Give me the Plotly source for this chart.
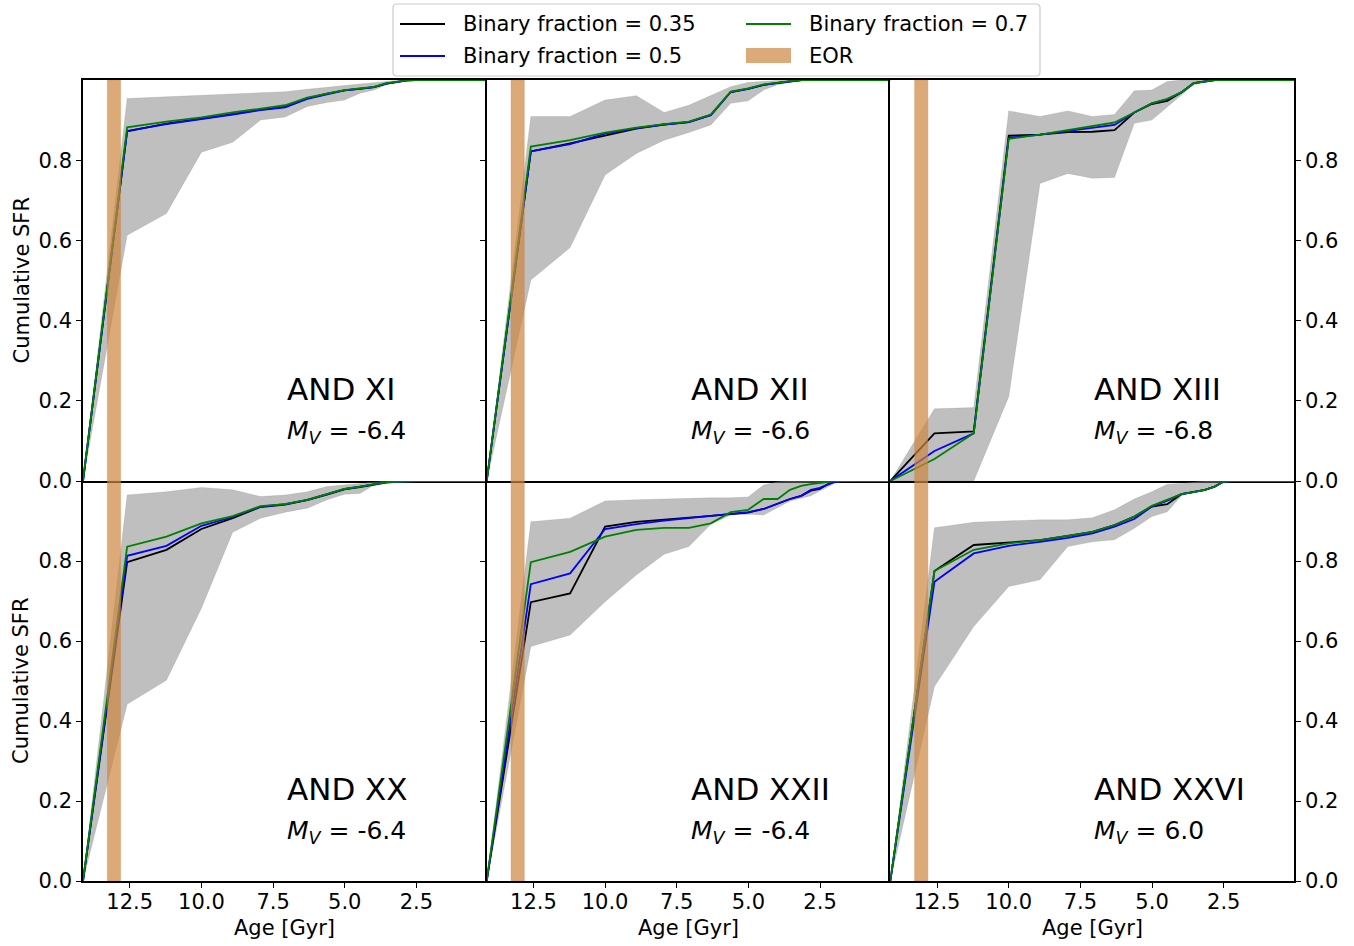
import plotly.graph_objects as go
from plotly.subplots import make_subplots

# ---------------- data ----------------
ages = [14.13, 12.59, 11.22, 10.00, 8.91, 7.94, 7.08, 6.31, 5.62, 5.01,
        4.47, 3.98, 3.55, 3.16, 2.82, 2.51, 2.24, 2.00, 1.78, 0.05]

eor_range = [13.28, 12.82]

names = ["AND XI", "AND XII", "AND XIII", "AND XX", "AND XXII", "AND XXVI"]
mv_values = ["-6.4", "-6.6", "-6.8", "-6.4", "-6.4", "6.0"]

# AND XI
xi_035 = [0, 0.872, 0.891, 0.903, 0.915, 0.926, 0.933, 0.954, 0.966, 0.974, 0.978, 0.982, 0.991, 0.995, 0.999, 1, 1, 1, 1, 1]
xi_05 = [0, 0.873, 0.890, 0.902, 0.914, 0.925, 0.932, 0.953, 0.965, 0.974, 0.978, 0.982, 0.991, 0.995, 0.999, 1, 1, 1, 1, 1]
xi_07 = [0, 0.882, 0.896, 0.907, 0.919, 0.929, 0.937, 0.956, 0.967, 0.975, 0.979, 0.983, 0.992, 0.996, 0.999, 1, 1, 1, 1, 1]
xi_lo = [0, 0.613, 0.667, 0.820, 0.845, 0.900, 0.908, 0.934, 0.944, 0.950, 0.967, 0.975, 0.988, 0.994, 0.998, 1, 1, 1, 1, 1]
xi_hi = [0, 0.954, 0.958, 0.962, 0.965, 0.968, 0.971, 0.977, 0.981, 0.986, 0.990, 0.994, 0.997, 0.999, 1, 1, 1, 1, 1, 1]

# AND XII
xii_035 = [0, 0.822, 0.842, 0.862, 0.879, 0.889, 0.895, 0.913, 0.970, 0.978, 0.988, 0.993, 0.997, 1, 1, 1, 1, 1, 1, 1]
xii_05 = [0, 0.822, 0.840, 0.866, 0.880, 0.889, 0.895, 0.912, 0.970, 0.978, 0.988, 0.993, 0.997, 1, 1, 1, 1, 1, 1, 1]
xii_07 = [0, 0.834, 0.850, 0.869, 0.881, 0.890, 0.896, 0.914, 0.971, 0.979, 0.989, 0.994, 0.997, 1, 1, 1, 1, 1, 1, 1]
xii_lo = [0, 0.501, 0.582, 0.763, 0.817, 0.850, 0.869, 0.888, 0.942, 0.948, 0.975, 0.988, 0.994, 0.998, 1, 1, 1, 1, 1, 1]
xii_hi = [0, 0.909, 0.909, 0.950, 0.961, 0.919, 0.937, 0.961, 0.983, 0.994, 0.997, 0.999, 1, 1, 1, 1, 1, 1, 1, 1]

# AND XIII
xiii_035 = [0, 0.119, 0.124, 0.861, 0.864, 0.870, 0.871, 0.875, 0.919, 0.940, 0.948, 0.969, 0.992, 0.996, 1, 1, 1, 1, 1, 1]
xiii_05 = [0, 0.075, 0.119, 0.856, 0.864, 0.873, 0.880, 0.888, 0.919, 0.942, 0.952, 0.969, 0.992, 0.996, 1, 1, 1, 1, 1, 1]
xiii_07 = [0, 0.055, 0.119, 0.853, 0.864, 0.875, 0.884, 0.894, 0.919, 0.942, 0.953, 0.969, 0.992, 0.996, 1, 1, 1, 1, 1, 1]
xiii_lo = [0, 0, 0, 0.210, 0.742, 0.767, 0.755, 0.757, 0.892, 0.900, 0.933, 0.963, 0.988, 0.994, 0.998, 1, 1, 1, 1, 1]
xiii_hi = [0, 0.180, 0.183, 0.923, 0.909, 0.923, 0.909, 0.914, 0.973, 0.975, 0.996, 1, 1, 1, 1, 1, 1, 1, 1, 1]

# AND XX
xx_035 = [0, 0.797, 0.828, 0.880, 0.907, 0.935, 0.941, 0.952, 0.966, 0.979, 0.985, 0.991, 0.996, 0.998, 1, 1, 1, 1, 1, 1]
xx_05 = [0, 0.813, 0.838, 0.888, 0.910, 0.936, 0.942, 0.953, 0.967, 0.980, 0.986, 0.992, 0.997, 0.998, 1, 1, 1, 1, 1, 1]
xx_07 = [0, 0.836, 0.861, 0.894, 0.912, 0.937, 0.942, 0.953, 0.967, 0.980, 0.986, 0.992, 0.997, 0.998, 1, 1, 1, 1, 1, 1]
xx_lo = [0, 0.442, 0.502, 0.682, 0.872, 0.907, 0.922, 0.932, 0.953, 0.967, 0.969, 0.990, 0.998, 1, 1, 1, 1, 1, 1, 1]
xx_hi = [0, 0.965, 0.973, 0.984, 0.978, 0.961, 0.965, 0.973, 0.986, 0.990, 0.994, 0.998, 1, 1, 1, 1, 1, 1, 1, 1]

# AND XXII
xxii_035 = [0, 0.697, 0.719, 0.886, 0.898, 0.903, 0.908, 0.913, 0.917, 0.921, 0.930, 0.944, 0.955, 0.963, 0.976, 0.980, 0.992, 0.998, 1, 1]
xxii_05 = [0, 0.742, 0.769, 0.880, 0.892, 0.901, 0.907, 0.912, 0.917, 0.922, 0.930, 0.944, 0.955, 0.963, 0.978, 0.983, 0.992, 0.998, 1, 1]
xxii_07 = [0, 0.797, 0.823, 0.861, 0.878, 0.883, 0.883, 0.894, 0.922, 0.928, 0.955, 0.955, 0.978, 0.988, 0.992, 0.995, 0.998, 1, 1, 1]
xxii_lo = [0, 0.586, 0.615, 0.698, 0.765, 0.817, 0.836, 0.892, 0.915, 0.917, 0.915, 0.933, 0.950, 0.957, 0.963, 0.975, 0.986, 0.994, 0.998, 1]
xxii_hi = [0, 0.898, 0.907, 0.950, 0.953, 0.955, 0.958, 0.958, 0.958, 0.960, 0.990, 0.998, 1, 1, 1, 1, 1, 1, 1, 1]

# AND XXVI
xxvi_035 = [0, 0.775, 0.840, 0.847, 0.852, 0.863, 0.873, 0.890, 0.911, 0.936, 0.942, 0.967, 0.972, 0.978, 0.986, 0.998, 1, 1, 1, 1]
xxvi_05 = [0, 0.748, 0.819, 0.838, 0.848, 0.858, 0.869, 0.886, 0.905, 0.936, 0.951, 0.967, 0.972, 0.978, 0.986, 0.998, 1, 1, 1, 1]
xxvi_07 = [0, 0.775, 0.828, 0.844, 0.852, 0.863, 0.873, 0.890, 0.911, 0.938, 0.953, 0.967, 0.972, 0.978, 0.986, 0.998, 1, 1, 1, 1]
xxvi_lo = [0, 0.486, 0.636, 0.736, 0.753, 0.836, 0.848, 0.853, 0.882, 0.911, 0.923, 0.963, 0.972, 0.975, 0.983, 0.997, 1, 1, 1, 1]
xxvi_hi = [0, 0.883, 0.897, 0.900, 0.903, 0.903, 0.908, 0.928, 0.955, 0.973, 0.992, 0.994, 0.998, 1, 1, 1, 1, 1, 1, 1]

bf035 = [xi_035, xii_035, xiii_035, xx_035, xxii_035, xxvi_035]
bf05 = [xi_05, xii_05, xiii_05, xx_05, xxii_05, xxvi_05]
bf07 = [xi_07, xii_07, xiii_07, xx_07, xxii_07, xxvi_07]
band_lo = [xi_lo, xii_lo, xiii_lo, xx_lo, xxii_lo, xxvi_lo]
band_hi = [xi_hi, xii_hi, xiii_hi, xx_hi, xxii_hi, xxvi_hi]

x_ticks = [12.5, 10.0, 7.5, 5.0, 2.5]
y_ticks = [0.0, 0.2, 0.4, 0.6, 0.8]

# ---------------- layout helpers ----------------
W, H = 1354, 946
FONT = "DejaVu Sans"
def fx(p):
    return p / W
def fy(p):
    return 1 - p / H

col_px = [(83, 486.7), (486.7, 890.3), (890.3, 1294)]
row_px = [(80, 481), (481, 881)]

fig = make_subplots(rows=2, cols=3, horizontal_spacing=0, vertical_spacing=0)

line_colors = ["black", "blue", "green"]
series_sets = [bf035, bf05, bf07]

for i in range(6):
    r = i // 3 + 1
    c = i % 3 + 1
    # grey band
    fig.add_trace(go.Scatter(x=ages, y=band_lo[i], mode="lines",
                             line=dict(color="rgba(128,128,128,0.25)", width=0.8),
                             showlegend=False, hoverinfo="skip"), row=r, col=c)
    fig.add_trace(go.Scatter(x=ages, y=band_hi[i], mode="lines", fill="tonexty",
                             fillcolor="rgba(128,128,128,0.5)",
                             line=dict(color="rgba(128,128,128,0.25)", width=0.8),
                             showlegend=False, hoverinfo="skip"), row=r, col=c)
    for s, col in zip(series_sets, line_colors):
        fig.add_trace(go.Scatter(x=ages, y=s[i], mode="lines",
                                 line=dict(color=col, width=1.8),
                                 showlegend=False), row=r, col=c)
    # EOR band
    fig.add_trace(go.Scatter(x=[eor_range[0], eor_range[1], eor_range[1], eor_range[0], eor_range[0]],
                             y=[0, 0, 1, 1, 0], mode="lines", fill="toself",
                             fillcolor="rgba(205,133,63,0.7)",
                             line=dict(color="rgba(205,133,63,0.35)", width=1),
                             showlegend=False, hoverinfo="skip"), row=r, col=c)

axis_font = dict(family=FONT, size=21, color="black")
for i in range(6):
    r = i // 3
    c = i % 3
    xa = "xaxis" if i == 0 else f"xaxis{i+1}"
    ya = "yaxis" if i == 0 else f"yaxis{i+1}"
    x0, x1 = col_px[c]
    y0, y1 = row_px[r]
    fig.layout[xa].update(
        domain=[fx(x0), fx(x1)], range=[ages[0], ages[-1]],
        showline=True, mirror=(r == 0), linecolor="black", linewidth=1.6,
        showgrid=False, zeroline=False,
        tickmode="array", tickvals=x_ticks, ticktext=[f"{v:.1f}" for v in x_ticks],
        ticks="outside" if r == 1 else "", ticklen=5, tickwidth=1.4, tickcolor="black",
        showticklabels=(r == 1), tickfont=axis_font, automargin=False,
        ticklabelstandoff=-4 if r == 1 else 0,
    )
    fig.layout[ya].update(
        domain=[fy(y1), fy(y0)], range=[0, 1],
        showline=True, mirror=(c == 2), linecolor="black", linewidth=1.6,
        showgrid=False, zeroline=False,
        tickmode="array", tickvals=y_ticks, ticktext=[f"{v:.1f}" for v in y_ticks],
        ticks="outside", ticklen=5, tickwidth=1.4, tickcolor="black",
        showticklabels=(c != 1), side="right" if c == 2 else "left",
        tickfont=axis_font, automargin=False,
    )

annotations = []
for i in range(6):
    xd = "x domain" if i == 0 else f"x{i+1} domain"
    yd = "y domain" if i == 0 else f"y{i+1} domain"
    annotations.append(dict(xref=xd, yref=yd, x=0.5, y=0.229, xanchor="left", yanchor="middle",
                            text=names[i], showarrow=False,
                            font=dict(family=FONT, size=31, color="black")))
    annotations.append(dict(xref=xd, yref=yd, x=0.5, y=0.122, xanchor="left", yanchor="middle",
                            text=f"<i>M</i><sub><i>V</i></sub> = {mv_values[i]}", showarrow=False,
                            font=dict(family=FONT, size=25, color="black")))

# axis titles
for (ya0, ya1) in row_px:
    annotations.append(dict(xref="paper", yref="paper", x=fx(21), y=fy((ya0 + ya1) / 2),
                            xanchor="center", yanchor="middle", textangle=-90,
                            text="Cumulative SFR", showarrow=False,
                            font=dict(family=FONT, size=21, color="black")))
for (xa0, xa1) in col_px:
    annotations.append(dict(xref="paper", yref="paper", x=fx((xa0 + xa1) / 2), y=fy(928),
                            xanchor="center", yanchor="middle",
                            text="Age [Gyr]", showarrow=False,
                            font=dict(family=FONT, size=21, color="black")))

# legend (drawn manually to reproduce the 2-column layout)
legend_entries = [
    ("Binary fraction = 0.35", "black", 400, 24),
    ("Binary fraction = 0.5", "blue", 400, 56),
    ("Binary fraction = 0.7", "green", 746, 24),
]
shapes = []
bx0, bx1, by0, by1 = 393, 1040, 4, 76
rx, ry = 4 / W, 4 / H
X0, X1, Y0, Y1 = fx(bx0), fx(bx1), fy(by1), fy(by0)
path = (f"M {X0+rx},{Y0} L {X1-rx},{Y0} Q {X1},{Y0} {X1},{Y0+ry} L {X1},{Y1-ry} "
        f"Q {X1},{Y1} {X1-rx},{Y1} L {X0+rx},{Y1} Q {X0},{Y1} {X0},{Y1-ry} "
        f"L {X0},{Y0+ry} Q {X0},{Y0} {X0+rx},{Y0} Z")
shapes.append(dict(type="path", xref="paper", yref="paper", path=path,
                   line=dict(color="#cccccc", width=1.2), fillcolor="rgba(255,255,255,0.85)",
                   layer="above"))
for label, col, lx, ly in legend_entries:
    shapes.append(dict(type="line", xref="paper", yref="paper", x0=fx(lx), x1=fx(lx + 45),
                       y0=fy(ly), y1=fy(ly), line=dict(color=col, width=2), layer="above"))
    annotations.append(dict(xref="paper", yref="paper", x=fx(lx + 61), y=fy(ly),
                            xanchor="left", yanchor="middle", text=label, showarrow=False,
                            font=dict(family=FONT, size=21, color="black")))
shapes.append(dict(type="rect", xref="paper", yref="paper", x0=fx(746), x1=fx(791),
                   y0=fy(63), y1=fy(48), line=dict(width=0),
                   fillcolor="rgba(205,133,63,0.7)", layer="above"))
annotations.append(dict(xref="paper", yref="paper", x=fx(807), y=fy(56),
                        xanchor="left", yanchor="middle", text="EOR", showarrow=False,
                        font=dict(family=FONT, size=21, color="black")))

fig.update_layout(
    width=W, height=H, margin=dict(l=0, r=0, t=0, b=0),
    paper_bgcolor="white", plot_bgcolor="white",
    showlegend=False, annotations=annotations, shapes=shapes,
    font=dict(family=FONT, color="black"),
)

fig.write_html("out.html")
